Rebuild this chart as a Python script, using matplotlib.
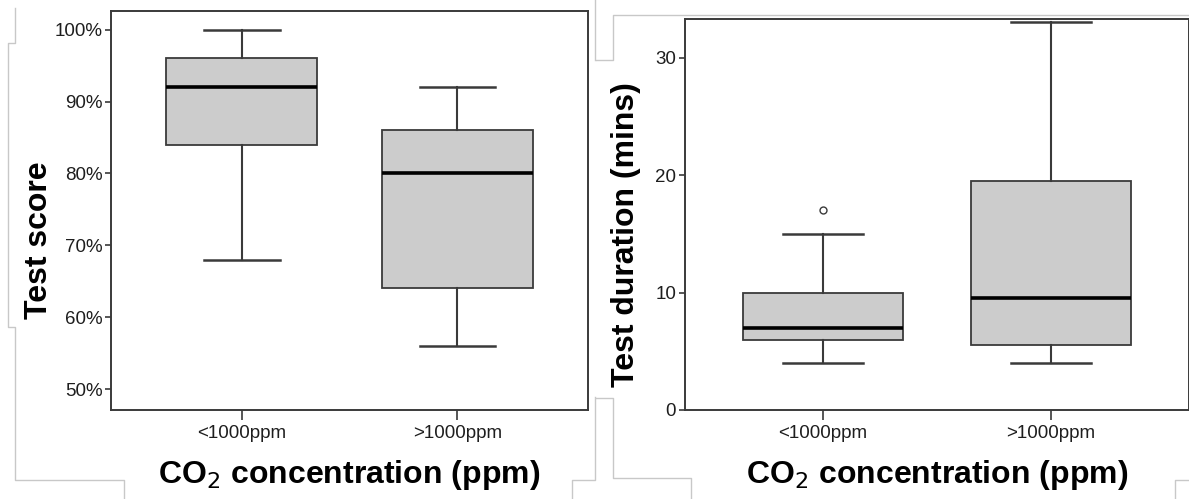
import matplotlib
matplotlib.use('Agg')
import matplotlib.pyplot as plt
from matplotlib.lines import Line2D
from matplotlib.ticker import FuncFormatter

plt.rcParams['font.family'] = ['Liberation Sans', 'DejaVu Sans']

groups = ['<1000ppm', '>1000ppm']

# test score (%): whisker low, q1, median, q3, whisker high
score_lo = [68, 56]
score_q1 = [84, 64]
score_med = [92, 80]
score_q3 = [96, 86]
score_hi = [100, 92]

# test duration (mins)
dur_lo = [4, 4]
dur_q1 = [6, 5.5]
dur_med = [7, 9.5]
dur_q3 = [10, 19.5]
dur_hi = [15, 33]
dur_out = [[17], []]

def make_stats(lo, q1, med, q3, hi, out=None):
    stats = []
    for i in range(len(lo)):
        stats.append(dict(whislo=lo[i], q1=q1[i], med=med[i], q3=q3[i], whishi=hi[i],
                          fliers=(out[i] if out else []), label=groups[i]))
    return stats

edge = '#3a3a3a'
box_kw = dict(patch_artist=True, widths=0.7, capwidths=0.35,
              boxprops=dict(facecolor='#cccccc', edgecolor=edge, linewidth=1.3),
              medianprops=dict(color='black', linewidth=2.6),
              whiskerprops=dict(color=edge, linewidth=1.5),
              capprops=dict(color=edge, linewidth=1.8),
              flierprops=dict(marker='o', markersize=5, markerfacecolor='white',
                              markeredgecolor=edge, markeredgewidth=1.0))

fig = plt.figure(figsize=(11.89, 4.99), dpi=100)
ax1 = fig.add_axes([0.0934, 0.1784, 0.4011, 0.7996])
ax2 = fig.add_axes([0.5757, 0.1784, 0.4243, 0.7836])

ax1.bxp(make_stats(score_lo, score_q1, score_med, score_q3, score_hi), **box_kw)
ax2.bxp(make_stats(dur_lo, dur_q1, dur_med, dur_q3, dur_hi, dur_out), **box_kw)

ax1.set_ylim(47.1, 102.6)
ax1.set_yticks([50, 60, 70, 80, 90, 100])
ax1.yaxis.set_major_formatter(FuncFormatter(lambda v, p: '%d%%' % v))
ax2.set_ylim(0, 33.3)
ax2.set_yticks([0, 10, 20, 30])

for ax in (ax1, ax2):
    ax.set_xlim(0.394, 2.605)
    ax.set_xticks([1, 2])
    ax.set_xticklabels(groups)
    for s in ax.spines.values():
        s.set_color(edge)
        s.set_linewidth(1.4)
    ax.tick_params(axis='both', colors=edge, labelcolor='#1e1e1e', labelsize=13.5,
                   width=1.2)
    ax.tick_params(axis='x', length=7, pad=4)
    ax.tick_params(axis='y', length=4, pad=2)
    ax.set_xlabel('CO$_2$ concentration (ppm)', fontsize=23, fontweight='bold',
                  labelpad=11, color='black')

ax1.set_ylabel('Test score', fontsize=23, fontweight='bold')
ax1.yaxis.set_label_coords(-0.12, 0.426)
ax2.set_ylabel('Test duration (mins)', fontsize=23, fontweight='bold')
ax2.yaxis.set_label_coords(-0.087, 0.448)

# faint frame lines from the source screenshot
W, H = 1189.0, 499.0
frames = [
    [(15, 8), (15, 43), (8, 43), (8, 327), (15, 327), (15, 480), (124, 480), (124, 499)],
    [(595, 0), (595, 60)],
    [(595, 397), (595, 480), (572, 480), (572, 499)],
    [(596, 60), (613, 60), (613, 15), (1189, 15)],
    [(596, 398), (613, 398), (613, 478), (691, 478), (691, 499)],
    [(1175, 499), (1175, 480), (1189, 480)],
]
for pts in frames:
    xs = [p[0] / W for p in pts]
    ys = [1 - p[1] / H for p in pts]
    fig.add_artist(Line2D(xs, ys, color='#c8c8c8', linewidth=1.0, zorder=0))

fig.savefig('out.png', dpi=100)
